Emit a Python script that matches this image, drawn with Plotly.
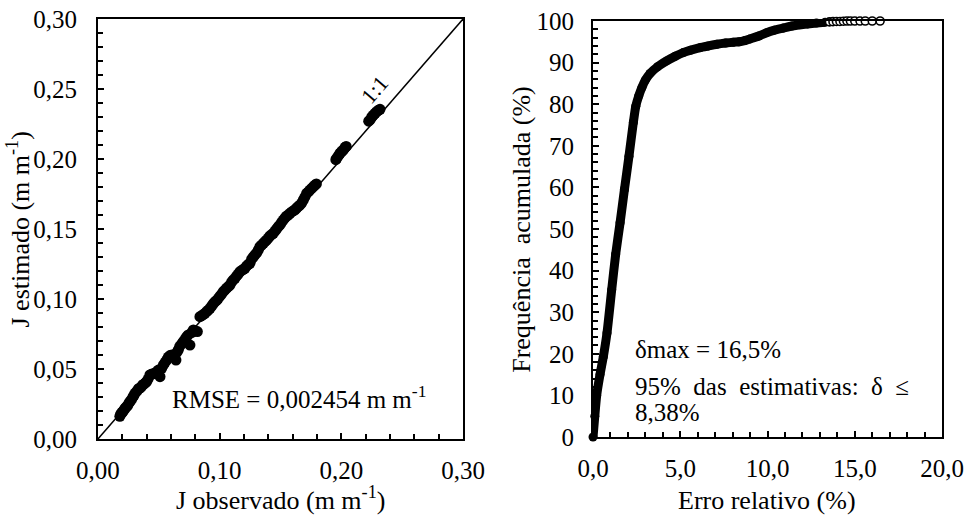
import plotly.graph_objects as go

# ---------------- data: left panel (J observed vs J estimated, m/m) ----------------
j_obs = [0.0180, 0.0186, 0.0195, 0.0203, 0.0208, 0.0217, 0.0225, 0.0236, 0.0244, 0.0256,
         0.0263, 0.0275, 0.0288, 0.0296, 0.0304, 0.0318, 0.0332, 0.0341, 0.0355, 0.0367,
         0.0378, 0.0390, 0.0400, 0.0412, 0.0427, 0.0438, 0.0452, 0.0468, 0.0482, 0.0497,
         0.0510, 0.0524, 0.0538, 0.0552, 0.0565, 0.0578, 0.0592, 0.0606, 0.0620, 0.0641,
         0.0650, 0.0660, 0.0672, 0.0688, 0.0701, 0.0715, 0.0728, 0.0742, 0.0756, 0.0770,
         0.0784, 0.0800, 0.0817, 0.0838, 0.0850, 0.0865, 0.0879, 0.0893, 0.0907, 0.0921,
         0.0935, 0.0948, 0.0962, 0.0975, 0.0989, 0.1003, 0.1016, 0.1030, 0.1044, 0.1058,
         0.1071, 0.1085, 0.1099, 0.1112, 0.1126, 0.1140, 0.1153, 0.1167, 0.1181, 0.1195,
         0.1208, 0.1222, 0.1236, 0.1249, 0.1263, 0.1277, 0.1290, 0.1304, 0.1318, 0.1331,
         0.1345, 0.1359, 0.1372, 0.1386, 0.1400, 0.1413, 0.1427, 0.1441, 0.1455, 0.1468,
         0.1482, 0.1496, 0.1509, 0.1523, 0.1537, 0.1550, 0.1564, 0.1578, 0.1592, 0.1605,
         0.1619, 0.1633, 0.1646, 0.1660, 0.1674, 0.1688, 0.1701, 0.1715, 0.1729, 0.1742,
         0.1756, 0.1770, 0.1784, 0.1795,
         0.1955, 0.1962, 0.1975, 0.1989, 0.2003, 0.2016, 0.2030, 0.2040,
         0.2225, 0.2236, 0.2250, 0.2263, 0.2277, 0.2290, 0.2304, 0.2318]

j_est = [0.0162, 0.0175, 0.0188, 0.0192, 0.0200, 0.0211, 0.0222, 0.0231, 0.0240, 0.0258,
         0.0267, 0.0281, 0.0300, 0.0312, 0.0326, 0.0340, 0.0358, 0.0362, 0.0370, 0.0386,
         0.0392, 0.0401, 0.0410, 0.0428, 0.0457, 0.0462, 0.0466, 0.0469, 0.0480, 0.0492,
         0.0445, 0.0505, 0.0530, 0.0548, 0.0564, 0.0585, 0.0596, 0.0600, 0.0598, 0.0564,
         0.0620, 0.0636, 0.0662, 0.0680, 0.0695, 0.0712, 0.0730, 0.0743, 0.0671, 0.0760,
         0.0779, 0.0772, 0.0767, 0.0874, 0.0880, 0.0888, 0.0898, 0.0910, 0.0921, 0.0933,
         0.0950, 0.0966, 0.0981, 0.0990, 0.1005, 0.1020, 0.1034, 0.1052, 0.1065, 0.1078,
         0.1088, 0.1100, 0.1122, 0.1136, 0.1148, 0.1165, 0.1178, 0.1195, 0.1204, 0.1212,
         0.1219, 0.1236, 0.1248, 0.1255, 0.1285, 0.1300, 0.1315, 0.1330, 0.1350, 0.1374,
         0.1385, 0.1398, 0.1410, 0.1421, 0.1435, 0.1450, 0.1460, 0.1469, 0.1485, 0.1500,
         0.1517, 0.1530, 0.1548, 0.1564, 0.1580, 0.1592, 0.1600, 0.1612, 0.1622, 0.1630,
         0.1636, 0.1650, 0.1661, 0.1671, 0.1685, 0.1707, 0.1730, 0.1755, 0.1765, 0.1778,
         0.1790, 0.1802, 0.1814, 0.1822,
         0.1995, 0.2005, 0.2022, 0.2041, 0.2055, 0.2064, 0.2083, 0.2090,
         0.2270, 0.2279, 0.2300, 0.2314, 0.2326, 0.2338, 0.2348, 0.2355]

line_11 = [0.0, 0.30]

# ---------------- data: right panel (cumulative frequency of relative error) ----------------
err_pct = [0.00, 0.10, 0.21, 0.40, 0.59, 0.80, 1.07, 1.30, 1.55, 1.80, 2.06, 2.31, 2.45,
           2.62, 2.80, 3.00, 3.27, 3.70, 4.22, 4.70, 5.17, 5.60, 6.13, 6.60, 7.10, 7.60,
           8.04, 8.38, 8.70, 9.00, 9.50, 9.95, 10.40, 10.90, 11.40, 11.86, 12.30, 12.80, 13.30]
freq_pct = [0.0, 5.0, 10.0, 15.0, 19.3, 25.0, 35.4, 44.0, 51.5, 59.5, 67.5, 75.6, 79.5,
            82.0, 84.0, 85.8, 87.4, 89.0, 90.4, 91.5, 92.4, 93.0, 93.6, 94.0, 94.4, 94.7,
            94.9, 95.0, 95.3, 95.7, 96.4, 97.2, 97.8, 98.3, 98.8, 99.1, 99.3, 99.5, 99.7]

tail_err = [13.55, 13.75, 13.95, 14.15, 14.35, 14.55, 14.75, 15.00, 15.30, 15.60, 16.00, 16.45]
tail_freq = [99.8, 99.85, 99.9, 99.9, 99.95, 100, 100, 100, 100, 100, 100, 100]

FONT = "Liberation Serif, Times New Roman, serif"

fig = go.Figure()

fig.add_trace(go.Scatter(x=line_11, y=line_11, mode="lines",
                         line=dict(color="black", width=1.5),
                         xaxis="x", yaxis="y", showlegend=False, hoverinfo="skip"))
fig.add_trace(go.Scatter(x=j_obs, y=j_est, mode="markers",
                         marker=dict(color="black", size=11, symbol="circle"),
                         xaxis="x", yaxis="y", showlegend=False))

fig.add_trace(go.Scatter(x=err_pct, y=freq_pct, mode="lines+markers",
                         line=dict(color="black", width=9, shape="spline", smoothing=0.6),
                         marker=dict(color="black", size=9, symbol="circle"),
                         cliponaxis=False,
                         xaxis="x2", yaxis="y2", showlegend=False))
fig.add_trace(go.Scatter(x=tail_err, y=tail_freq, mode="markers",
                         marker=dict(color="white", size=8, symbol="circle",
                                     line=dict(color="black", width=1.6)),
                         cliponaxis=False,
                         xaxis="x2", yaxis="y2", showlegend=False))

axis_common = dict(showline=True, linecolor="black", linewidth=2, mirror=True,
                   showgrid=False, zeroline=False, ticks="inside", ticklen=6,
                   tickwidth=1.5, tickcolor="black", automargin=False,
                   tickfont=dict(family=FONT, size=25, color="black"))

fig.update_layout(
    width=966, height=515,
    margin=dict(l=0, r=0, t=0, b=0),
    paper_bgcolor="white", plot_bgcolor="white",
    separators=", ",
    font=dict(family=FONT, size=25, color="black"),
    xaxis=dict(domain=[0.1014, 0.4793], range=[0, 0.3], dtick=0.1, tick0=0,
               tickformat=".2f", anchor="y", ticklabelstandoff=8,
               minor=dict(dtick=0.02, ticks="inside", ticklen=5, tickcolor="black"),
               **axis_common),
    yaxis=dict(domain=[0.1476, 0.9631], range=[0, 0.3], dtick=0.05, tick0=0,
               tickformat=".2f", anchor="x", ticklabelstandoff=14,
               minor=dict(dtick=0.01, ticks="inside", ticklen=5, tickcolor="black"),
               **axis_common),
    xaxis2=dict(domain=[0.6139, 0.9752], range=[0, 20], dtick=5, tick0=0,
                tickformat=".1f", anchor="y2", ticklabelstandoff=8,
                minor=dict(dtick=1, ticks="inside", ticklen=5, tickcolor="black"),
                **axis_common),
    yaxis2=dict(domain=[0.1515, 0.9592], range=[0, 100], dtick=10, tick0=0,
                tickformat="d", anchor="x2", ticklabelstandoff=12,
                minor=dict(dtick=2, ticks="inside", ticklen=5, tickcolor="black"),
                **axis_common),
)

ann = []
ann.append(dict(text="J observado (m m<sup>-1</sup>)", xref="paper", yref="paper",
                x=0.29, y=0.033, xanchor="center", yanchor="middle", showarrow=False,
                font=dict(size=26)))
ann.append(dict(text="J estimado (m m<sup>-1</sup>)", xref="paper", yref="paper",
                x=0.019, y=0.555, xanchor="center", yanchor="middle", showarrow=False,
                textangle=-90, font=dict(size=26)))
ann.append(dict(text="Erro relativo (%)", xref="paper", yref="paper",
                x=0.794, y=0.029, xanchor="center", yanchor="middle", showarrow=False,
                font=dict(size=26)))
ann.append(dict(text="Frequência\u00a0 acumulada (%)", xref="paper", yref="paper",
                x=0.540, y=0.555, xanchor="center", yanchor="middle", showarrow=False,
                textangle=-90, font=dict(size=26)))
ann.append(dict(text="1:1", xref="x", yref="y", x=0.2277, y=0.2493,
                xanchor="center", yanchor="middle", showarrow=False,
                textangle=-49, font=dict(size=22)))
ann.append(dict(text="RMSE = 0,002454 m m<sup>-1</sup>", xref="x", yref="y",
                x=0.059, y=0.030, xanchor="left", yanchor="middle", showarrow=False,
                font=dict(size=25)))
ann.append(dict(text="δmax = 16,5%", xref="x2", yref="y2", x=2.3, y=(437 - 350) / 4.16,
                xanchor="left", yanchor="middle", showarrow=False, font=dict(size=25)))
ann.append(dict(text="95%  das  estimativas:  δ  ≤", xref="x2", yref="y2", x=2.3,
                y=(437 - 386.7) / 4.16, xanchor="left", yanchor="middle",
                showarrow=False, font=dict(size=25)))
ann.append(dict(text="8,38%", xref="x2", yref="y2", x=2.3, y=(437 - 413) / 4.16,
                xanchor="left", yanchor="middle", showarrow=False, font=dict(size=25)))
fig.update_layout(annotations=ann)

fig.write_html("out.html")
